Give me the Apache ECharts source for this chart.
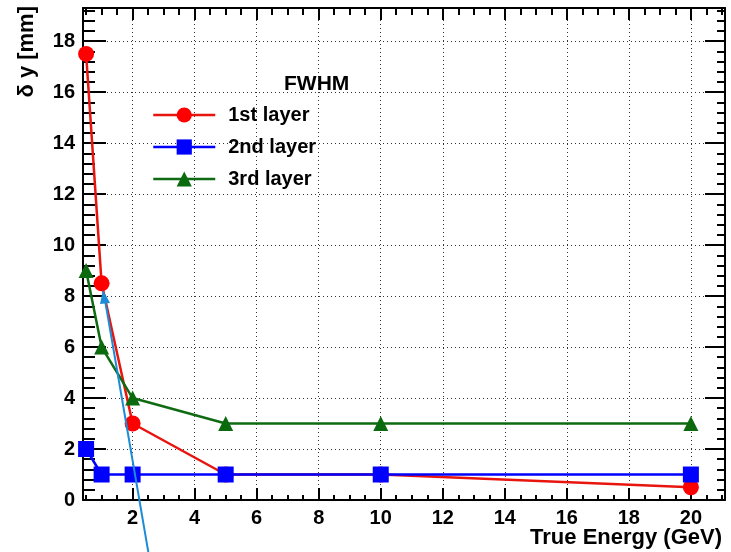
<!DOCTYPE html>
<html>
<head>
<meta charset="utf-8">
<script src="https://cdn.jsdelivr.net/npm/echarts@6/dist/echarts.min.js"></script>
<style>
html,body{margin:0;padding:0;background:#fff;}
#chart{width:731px;height:552px;}
</style>
</head>
<body>
<div id="chart"></div>
<script>
// ---- data ----
var energies = [0.5, 1, 2, 5, 10, 20];
var layer1 = [17.5, 8.5, 3, 1, 1, 0.5];
var layer2 = [2, 1, 1, 1, 1, 1];
var layer3 = [9, 6, 4, 3, 3, 3];
var seriesNames = ['1st layer', '2nd layer', '3rd layer'];
var legendTitle = 'FWHM';
var xTitle = 'True Energy (GeV)';
var yTitle = '\u03b4 y [mm]';

function pairs(xs, ys) { return xs.map(function (x, i) { return [x, ys[i]]; }); }

var FONT = '"Liberation Sans", Arial, Helvetica, sans-serif';
var chart = echarts.init(document.getElementById('chart'), null, {renderer: 'canvas'});

var xCommon = {
  type: 'value', min: 0.4, max: 21.1, splitNumber: 10,
  axisLine: {show: true, onZero: false, lineStyle: {color: '#000', width: 2}}
};
var yCommon = {
  type: 'value', min: 0, max: 19.3, interval: 2,
  axisLine: {show: true, onZero: false, lineStyle: {color: '#000', width: 2}}
};
var gridLine = {show: true, lineStyle: {color: '#333', width: 1, type: [1, 3]}};

var option = {
  animation: false,
  backgroundColor: '#fff',
  grid: {left: 83, right: 6, top: 8, bottom: 52, containLabel: false},
  xAxis: [
    Object.assign({}, xCommon, {
      position: 'bottom',
      axisTick: {show: true, inside: true, length: 12, lineStyle: {color: '#000', width: 2}},
      minorTick: {show: true, splitNumber: 4, length: 5, lineStyle: {color: '#000', width: 2}},
      splitLine: gridLine,
      axisLabel: {show: true, margin: 8, showMinLabel: false, showMaxLabel: false,
        color: '#000', fontSize: 20, fontWeight: 'bold', fontFamily: FONT}
    }),
    Object.assign({}, xCommon, {
      position: 'top',
      axisTick: {show: true, inside: true, length: 12, lineStyle: {color: '#000', width: 2}},
      minorTick: {show: true, splitNumber: 4, length: 7, lineStyle: {color: '#000', width: 2}},
      splitLine: {show: false},
      axisLabel: {show: false}
    })
  ],
  yAxis: [
    Object.assign({}, yCommon, {
      position: 'left',
      axisTick: {show: true, inside: true, length: 23, lineStyle: {color: '#000', width: 2}},
      minorTick: {show: true, splitNumber: 5, length: 12, lineStyle: {color: '#000', width: 2}},
      splitLine: gridLine,
      axisLabel: {show: true, margin: 8, showMaxLabel: false,
        color: '#000', fontSize: 20, fontWeight: 'bold', fontFamily: FONT}
    }),
    Object.assign({}, yCommon, {
      position: 'right',
      axisTick: {show: true, inside: true, length: 20, lineStyle: {color: '#000', width: 2}},
      minorTick: {show: true, splitNumber: 5, length: 8, lineStyle: {color: '#000', width: 2}},
      splitLine: {show: false},
      axisLabel: {show: false}
    })
  ],
  legend: {
    data: seriesNames,
    orient: 'vertical',
    left: 147, top: 100,
    itemWidth: 62, itemHeight: 19, itemGap: 12,
    lineStyle: {width: 2.5},
    textStyle: {color: '#000', fontSize: 20, fontWeight: 'bold', fontFamily: FONT, padding: [0, 0, 0, 8]}
  },
  series: [
    {
      name: seriesNames[0], type: 'line', data: pairs(energies, layer1),
      symbol: 'circle', symbolSize: 16, clip: false, z: 3,
      lineStyle: {color: '#e8150f', width: 2.5},
      itemStyle: {color: '#ff0000'}
    },
    {
      name: seriesNames[2], type: 'line', data: pairs(energies, layer3),
      symbol: 'triangle', symbolSize: 15, clip: false, z: 4,
      lineStyle: {color: '#0f6b12', width: 2.5},
      itemStyle: {color: '#0b6a0e'}
    },
    {
      name: seriesNames[1], type: 'line', data: pairs(energies, layer2),
      symbol: 'rect', symbolSize: 16, clip: false, z: 5,
      lineStyle: {color: '#0000ff', width: 2.5},
      itemStyle: {color: '#0000ff'}
    }
  ],
  graphic: [
    {type: 'text', x: 284, y: 84, z: 10,
      style: {text: legendTitle, fill: '#000', font: 'bold 21px ' + FONT, verticalAlign: 'middle', align: 'left'}},
    {type: 'text', x: 722, y: 538, z: 10,
      style: {text: xTitle, fill: '#000', font: 'bold 22px ' + FONT, verticalAlign: 'middle', align: 'right'}},
    {type: 'text', x: 27, y: 6, rotation: Math.PI / 2, z: 10,
      style: {text: yTitle, fill: '#000', font: 'bold 22px ' + FONT, verticalAlign: 'middle', align: 'right'}},
    // annotation arrow
    {type: 'line', z: 20, shape: {x1: 149, y1: 556, x2: 105, y2: 300},
      style: {stroke: '#1d8bd6', lineWidth: 2}},
    {type: 'polygon', z: 20, shape: {points: [[103, 290], [110, 303], [100, 304]]},
      style: {fill: '#1d8bd6'}}
  ]
};
chart.setOption(option);
</script>
</body>
</html>
